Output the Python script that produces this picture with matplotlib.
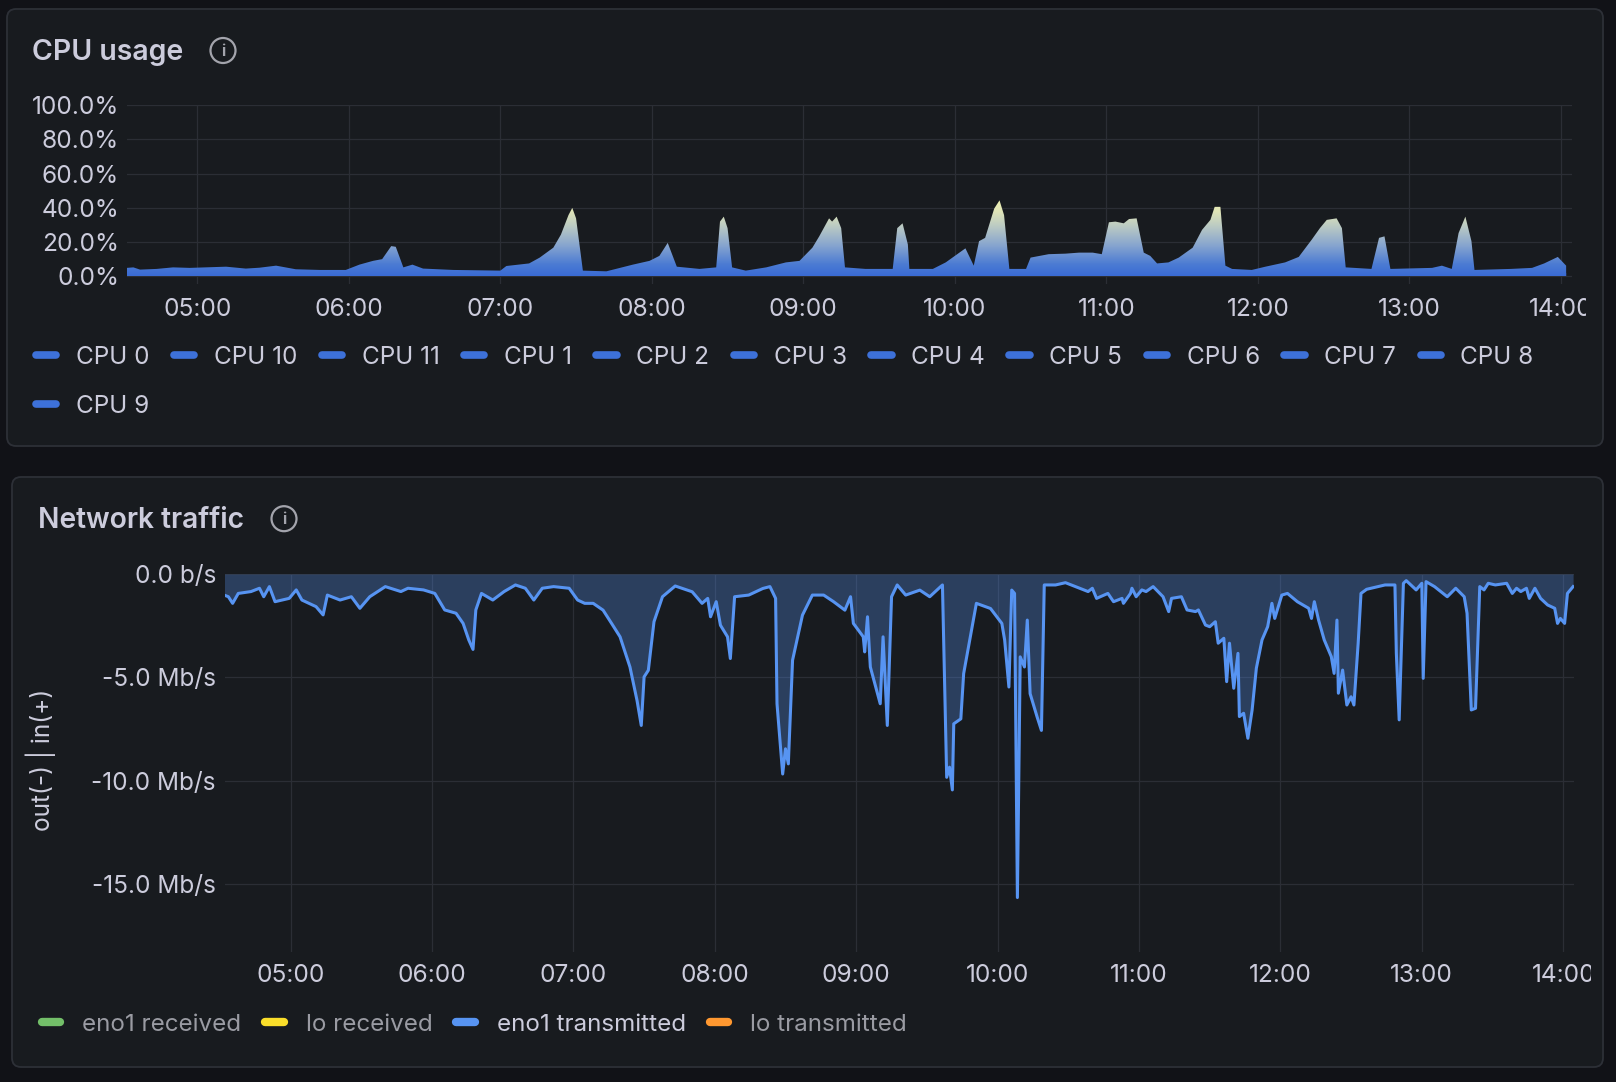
import numpy as np
import matplotlib
matplotlib.use("Agg")
import matplotlib.pyplot as plt
from matplotlib.colors import LinearSegmentedColormap, Normalize
from matplotlib.patches import FancyBboxPatch, Circle
from matplotlib.lines import Line2D
from matplotlib.transforms import Bbox, TransformedBbox

plt.rcParams['font.family'] = ['Inter', 'DejaVu Sans']

# --- data ---------------------------------------------------------------
hour_ticks = [5, 6, 7, 8, 9, 10, 11, 12, 13, 14]
hour_labels = ["05:00", "06:00", "07:00", "08:00", "09:00",
               "10:00", "11:00", "12:00", "13:00", "14:00"]
t_range = (4.534, 14.075)

cpu_labels = ["CPU 0", "CPU 10", "CPU 11", "CPU 1", "CPU 2", "CPU 3",
              "CPU 4", "CPU 5", "CPU 6", "CPU 7", "CPU 8", "CPU 9"]
cpu_yticks = [0, 20, 40, 60, 80, 100]
cpu_ylabels = ["0.0%", "20.0%", "40.0%", "60.0%", "80.0%", "100.0%"]

# busiest core (envelope), hours / percent
cpu_t = [4.534, 4.578, 4.622, 4.732, 4.84, 4.95, 5.19, 5.32, 5.41, 5.52,
         5.65, 5.81, 5.98, 6.07, 6.16, 6.22, 6.28, 6.31, 6.36, 6.42,
         6.49, 6.69, 7.00, 7.04, 7.19, 7.26, 7.35, 7.40, 7.45, 7.475,
         7.50, 7.545, 7.70, 7.79, 7.875, 7.985, 8.05, 8.105, 8.165, 8.315,
         8.425, 8.45, 8.475, 8.50, 8.53, 8.62, 8.755, 8.885, 8.975, 9.06,
         9.105, 9.17, 9.19, 9.22, 9.25, 9.275, 9.41, 9.59, 9.62, 9.655,
         9.69, 9.70, 9.855, 9.94, 10.07, 10.125, 10.16, 10.20, 10.26, 10.295,
         10.325, 10.36, 10.47, 10.50, 10.62, 10.73, 10.82, 10.91, 10.97, 11.017,
         11.06, 11.115, 11.15, 11.20, 11.247, 11.29, 11.335, 11.41, 11.478, 11.57,
         11.632, 11.687, 11.715, 11.753, 11.786, 11.83, 11.96, 12.05, 12.18, 12.27,
         12.356, 12.41, 12.455, 12.52, 12.555, 12.58, 12.75, 12.80, 12.836, 12.875,
         13.15, 13.215, 13.28, 13.325, 13.37, 13.41, 13.43, 13.67, 13.81, 13.89,
         13.98, 14.035]
cpu_busy = [5.0, 5.3, 4.0, 4.4, 5.3, 5.0, 5.7, 4.6, 5.1, 6.3,
            4.2, 3.8, 3.8, 6.9, 9.1, 10.1, 17.7, 17.3, 5.3, 6.9,
            4.6, 3.8, 3.4, 6.1, 7.6, 11.0, 16.8, 24.4, 35.8, 40.0,
            33.9, 3.4, 3.0, 5.0, 6.9, 9.1, 12.0, 19.6, 5.7, 4.4,
            5.3, 32.0, 34.9, 28.2, 5.3, 3.4, 5.3, 8.2, 9.1, 16.8,
            23.4, 33.9, 32.0, 34.9, 28.2, 5.3, 4.4, 4.4, 28.2, 31.0,
            18.7, 4.4, 4.4, 8.2, 16.4, 6.3, 20.6, 22.5, 39.6, 44.4,
            35.8, 4.4, 4.4, 11.0, 13.0, 13.3, 13.9, 13.9, 13.0, 31.6,
            32.0, 31.0, 33.5, 33.9, 13.9, 12.0, 7.6, 8.2, 11.0, 16.8,
            27.2, 33.0, 40.6, 40.6, 6.3, 4.4, 3.8, 5.7, 8.2, 11.4,
            21.5, 28.2, 33.0, 33.9, 28.2, 5.3, 4.4, 22.5, 23.4, 4.4,
            5.0, 6.3, 4.4, 25.3, 34.9, 20.6, 3.8, 4.4, 5.0, 7.6,
            11.4, 6.3]

# the other cores stay low
cpu_idle_t = [4.534, 5.5, 6.3, 6.5, 7.45, 7.55, 8.45, 8.55, 9.2, 9.3,
              9.65, 9.75, 10.3, 10.4, 10.8, 11.1, 11.7, 11.8, 12.5, 12.6,
              12.85, 12.9, 13.37, 13.45, 14.035]
cpu_idle = [2.0, 2.5, 3.0, 2.0, 3.5, 1.5, 3.0, 1.5, 3.0, 1.5,
            2.5, 1.5, 3.5, 1.5, 2.5, 3.5, 3.5, 1.5, 3.0, 1.5,
            3.0, 1.5, 3.5, 1.5, 2.0]

net_yticks = [0, -5, -10, -15]
net_ylabels = ["0.0 b/s", "-5.0 Mb/s", "-10.0 Mb/s", "-15.0 Mb/s"]
net_legend = ["eno1 received", "lo received", "eno1 transmitted", "lo transmitted"]
net_colors = ["#73bf69", "#fade2a", "#5794f2", "#ff9830"]

# eno1 transmitted, hours / Mb/s (negative = out)
net_t = [4.53, 4.56, 4.59, 4.63, 4.72, 4.78, 4.81, 4.85, 4.89, 4.99,
         5.04, 5.08, 5.18, 5.23, 5.26, 5.35, 5.43, 5.49, 5.56, 5.67,
         5.78, 5.83, 5.94, 6.02, 6.09, 6.17, 6.22, 6.26, 6.29, 6.31,
         6.35, 6.43, 6.51, 6.59, 6.66, 6.72, 6.78, 6.86, 6.97, 7.03,
         7.08, 7.14, 7.21, 7.27, 7.33, 7.40, 7.45, 7.48, 7.50, 7.53,
         7.57, 7.63, 7.72, 7.84, 7.91, 7.95, 7.97, 8.01, 8.04, 8.09,
         8.11, 8.14, 8.24, 8.34, 8.39, 8.43, 8.44, 8.48, 8.50, 8.52,
         8.55, 8.62, 8.69, 8.77, 8.84, 8.92, 8.96, 8.98, 9.05, 9.06,
         9.08, 9.10, 9.17, 9.19, 9.22, 9.25, 9.29, 9.35, 9.45, 9.52,
         9.61, 9.64, 9.66, 9.68, 9.69, 9.74, 9.76, 9.85, 9.95, 10.03,
         10.05, 10.08, 10.10, 10.12, 10.14, 10.16, 10.19, 10.21, 10.23, 10.28,
         10.31, 10.33, 10.41, 10.48, 10.64, 10.67, 10.70, 10.78, 10.82, 10.88,
         10.89, 10.94, 10.95, 10.98, 11.02, 11.05, 11.10, 11.17, 11.21, 11.23,
         11.30, 11.34, 11.40, 11.42, 11.47, 11.50, 11.54, 11.56, 11.60, 11.62,
         11.64, 11.67, 11.70, 11.71, 11.74, 11.77, 11.80, 11.83, 11.87, 11.91,
         11.94, 11.96, 12.01, 12.05, 12.12, 12.20, 12.22, 12.24, 12.27, 12.31,
         12.36, 12.38, 12.40, 12.41, 12.44, 12.47, 12.50, 12.52, 12.55, 12.57,
         12.61, 12.69, 12.74, 12.81, 12.82, 12.84, 12.87, 12.89, 12.96, 13.00,
         13.01, 13.03, 13.09, 13.18, 13.24, 13.30, 13.32, 13.35, 13.38, 13.41,
         13.44, 13.47, 13.52, 13.60, 13.64, 13.67, 13.70, 13.74, 13.76, 13.80,
         13.84, 13.89, 13.94, 13.96, 13.98, 14.01, 14.03, 14.07]
net_tx = [-1.02, -1.10, -1.42, -0.94, -0.85, -0.69, -1.10, -0.61, -1.34, -1.18,
          -0.77, -1.26, -1.58, -1.98, -1.02, -1.26, -1.10, -1.66, -1.10, -0.61,
          -0.85, -0.69, -0.77, -0.94, -1.74, -1.90, -2.39, -3.19, -3.65, -1.74,
          -0.94, -1.26, -0.85, -0.53, -0.69, -1.26, -0.69, -0.61, -0.69, -1.26,
          -1.42, -1.42, -1.75, -2.39, -3.04, -4.50, -6.12, -7.33, -4.98, -4.66,
          -2.31, -1.10, -0.58, -0.86, -1.42, -1.18, -2.07, -1.34, -2.48, -3.04,
          -4.09, -1.10, -1.02, -0.70, -0.61, -1.18, -6.28, -9.68, -8.46, -9.19,
          -4.17, -1.99, -1.02, -1.02, -1.34, -1.75, -1.10, -2.39, -3.04, -3.77,
          -2.07, -4.50, -6.28, -3.04, -7.33, -1.10, -0.53, -1.02, -0.78, -1.10,
          -0.53, -9.84, -9.35, -10.45, -7.25, -7.01, -4.82, -1.42, -1.67, -2.39,
          -3.20, -5.47, -0.78, -0.94, -15.66, -4.01, -4.50, -2.23, -5.79, -6.93,
          -7.57, -0.53, -0.53, -0.42, -0.85, -0.69, -1.18, -0.94, -1.34, -1.18,
          -1.42, -0.94, -0.69, -1.10, -0.77, -0.85, -0.61, -1.10, -1.82, -1.18,
          -1.10, -1.74, -1.82, -1.74, -2.47, -2.55, -2.31, -3.35, -3.11, -5.21,
          -3.35, -5.53, -3.84, -6.90, -6.74, -7.95, -6.58, -4.56, -3.19, -2.55,
          -1.42, -2.15, -1.02, -0.94, -1.34, -1.66, -2.15, -1.34, -2.23, -3.19,
          -4.00, -4.81, -2.23, -5.77, -4.65, -6.34, -5.94, -6.34, -3.35, -0.94,
          -0.74, -0.61, -0.53, -0.53, -3.84, -7.06, -0.45, -0.32, -0.77, -0.45,
          -5.05, -0.37, -0.61, -1.10, -0.69, -1.10, -1.90, -6.58, -6.50, -0.61,
          -0.77, -0.45, -0.53, -0.45, -0.94, -0.69, -0.85, -0.69, -1.18, -0.69,
          -1.18, -1.50, -1.66, -2.39, -2.15, -2.39, -0.94, -0.61]

# --- style ----------------------------------------------------------------
BG = "#111217"
PANEL = "#181b1f"
BORDER = "#2d3037"
GRID = "#2b2e35"
TEXT = "#ccccdc"
DIM = "#9a9ba3"
TICK_FS = 17.6

W, H = 16.16, 10.82
fig = plt.figure(figsize=(W, H), dpi=100, facecolor=BG)


def px(x, y):
    # original pixel -> inches (for dpi_scale_trans)
    return x / 100.0, H - y / 100.0


def panel(x0, y0, x1, y1):
    a = px(x0, y1)
    p = FancyBboxPatch(a, (x1 - x0) / 100.0, (y1 - y0) / 100.0,
                       boxstyle="round,pad=0,rounding_size=0.09",
                       transform=fig.dpi_scale_trans, fc=PANEL, ec=BORDER,
                       lw=1.3, zorder=-10)
    fig.add_artist(p)


def info_icon(cx, cy):
    c = Circle(px(cx, cy), 0.125, transform=fig.dpi_scale_trans,
               fill=False, ec="#a3a4ac", lw=1.6, zorder=5)
    fig.add_artist(c)
    fig.text(cx / (W * 100), 1 - (cy + 0.5) / (H * 100), "i", ha="center",
             va="center", fontsize=11, fontweight="bold", color="#a3a4ac")


def style_axes(ax, ticks_y, labels_y, pad_y, pad_x, clip_x):
    ax.set_facecolor("none")
    for s in ax.spines.values():
        s.set_visible(False)
    ax.set_xlim(*t_range)
    ax.set_xticks(hour_ticks)
    ax.set_xticklabels(hour_labels)
    ax.set_yticks(ticks_y)
    ax.set_yticklabels(labels_y)
    ax.tick_params(axis="both", length=0, labelsize=TICK_FS, labelcolor=TEXT)
    ax.tick_params(axis="y", pad=pad_y)
    ax.tick_params(axis="x", pad=pad_x)
    ax.grid(True, color=GRID, lw=0.9)
    ax.set_axisbelow(True)
    # the last label is cut by the panel edge
    lab = ax.get_xticklabels()[-1]
    lab.set_clip_box(TransformedBbox(Bbox([[0, 0], [clip_x / 1616, 1]]),
                                     fig.transFigure))
    lab.set_clip_on(True)


panel(7, 9, 1603, 446)
panel(12, 477, 1603, 1067)

# --- CPU usage ------------------------------------------------------------
fig.text(32.5 / 1616, 1 - 60 / 1082, "CPU usage", fontsize=20.5,
         fontweight=600, color=TEXT, va="baseline")
info_icon(223, 50.5)

ax1 = fig.add_axes([126.7 / 1616, 1 - 284 / 1082,
                    (1572.2 - 126.7) / 1616, (284 - 105) / 1082])
cmap = LinearSegmentedColormap.from_list(
    "cpu", [(0.0, "#3a6bd4"), (0.15, "#4b7bd3"), (0.4, "#86a4cf"),
            (0.65, "#b9c9c4"), (0.85, "#dfe4b8"), (1.0, "#eff1b2")])
norm = Normalize(0, 44)
grad = np.linspace(0, 100, 500).reshape(-1, 1)

for tt, vv in [(cpu_t, cpu_busy), (cpu_idle_t, cpu_idle)]:
    poly = ax1.fill_between(tt, 0, vv, facecolor="none", edgecolor="none")
    im = ax1.imshow(grad, extent=[tt[0], tt[-1], 0, 100], origin="lower",
                    aspect="auto", cmap=cmap, norm=norm, zorder=2,
                    interpolation="bilinear")
    im.set_clip_path(poly.get_paths()[0], transform=ax1.transData)

ax1.set_ylim(-4.4, 100)
style_axes(ax1, cpu_yticks, cpu_ylabels, 5.5, 10.0, 1586)

# legend fills column by column: put CPU 9 under CPU 0
cpu_order = [0, 11] + list(range(1, 11))
handles = [Line2D([], [], color="#3d71d9", lw=5.5, solid_capstyle="round")
           for _ in cpu_labels]
leg1 = fig.legend([handles[i] for i in cpu_order],
                  [cpu_labels[i] for i in cpu_order], loc="upper left",
                  bbox_to_anchor=(36 / 1616, 1 - 345.5 / 1082), ncol=11,
                  frameon=False, fontsize=17.5, handlelength=0.84,
                  handletextpad=0.8, columnspacing=1.01, labelspacing=1.08,
                  borderpad=0, borderaxespad=0, labelcolor=TEXT)

# --- Network traffic ------------------------------------------------------
fig.text(38.5 / 1616, 1 - 528.3 / 1082, "Network traffic", fontsize=20.3,
         fontweight=600, color=TEXT, va="baseline")
info_icon(284, 518.7)

ax2 = fig.add_axes([224.7 / 1616, 1 - 951.7 / 1082,
                    (1573.8 - 224.7) / 1616, (951.7 - 574) / 1082])
ax2.fill_between(net_t, net_tx, 0, color="#5794f2", alpha=0.3, lw=0, zorder=2)
ax2.plot(net_t, net_tx, color="#5794f2", lw=2.2, zorder=3,
         solid_joinstyle="round")
ax2.set_ylim(-18.28, 0)
style_axes(ax2, net_yticks, net_ylabels, 6.3, 8.8, 1591)

fig.text(40.5 / 1616, 1 - 760 / 1082, "out(-) | in(+)", rotation=90,
         ha="center", va="center", fontsize=17.6, color=TEXT)

nhandles = [Line2D([], [], color=c, lw=6.0, solid_capstyle="round")
            for c in net_colors]
leg2 = fig.legend(nhandles, net_legend, loc="upper left",
                  bbox_to_anchor=(42 / 1616, 1 - 1013.6 / 1082), ncol=4,
                  frameon=False, fontsize=17.4, handlelength=0.76,
                  handletextpad=0.9, columnspacing=1.0,
                  borderpad=0, borderaxespad=0)
for txt, on in zip(leg2.get_texts(), [False, False, True, False]):
    txt.set_color(TEXT if on else DIM)

fig.savefig("out.png", dpi=100, facecolor=BG)
